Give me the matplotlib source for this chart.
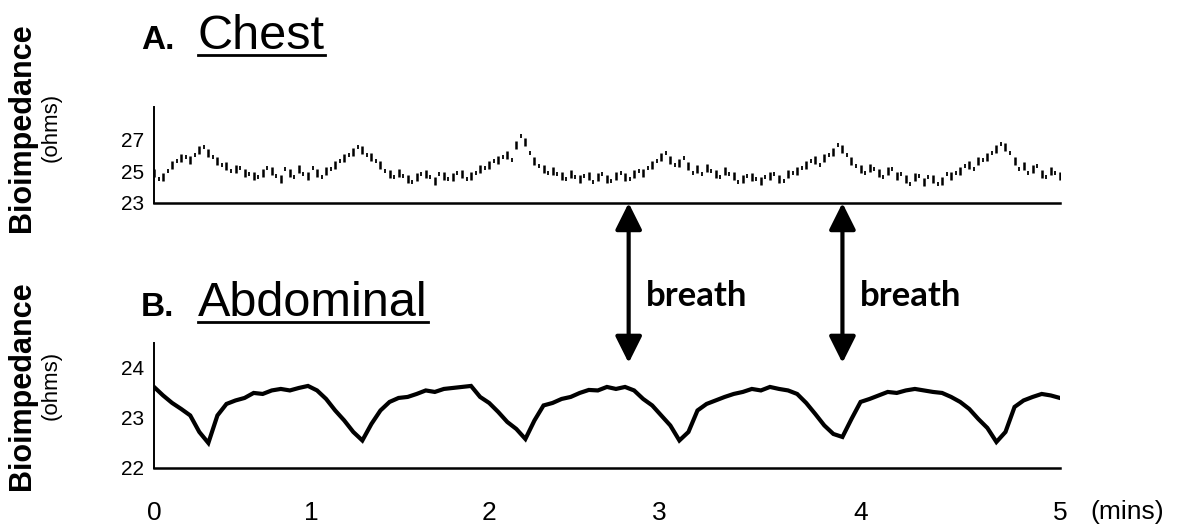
import matplotlib
matplotlib.use("Agg")
import matplotlib.pyplot as plt
from matplotlib import font_manager
from matplotlib.lines import Line2D
from matplotlib.patches import ConnectionPatch

# chest trace (mins, ohms)
chest_t = [0.00, 0.05, 0.10, 0.15, 0.20, 0.25, 0.30, 0.35, 0.40, 0.45,
           0.50, 0.55, 0.60, 0.65, 0.70, 0.75, 0.80, 0.85, 0.90, 0.95,
           1.00, 1.05, 1.10, 1.15, 1.20, 1.25, 1.30, 1.35, 1.40, 1.45,
           1.50, 1.55, 1.60, 1.65, 1.70, 1.75, 1.80, 1.85, 1.90, 1.95,
           2.00, 2.05, 2.10, 2.15, 2.20, 2.25, 2.30, 2.35, 2.40, 2.45,
           2.50, 2.55, 2.60, 2.65, 2.70, 2.75, 2.80, 2.85, 2.90, 2.95,
           3.00, 3.05, 3.10, 3.15, 3.20, 3.25, 3.30, 3.35, 3.40, 3.45,
           3.50, 3.55, 3.60, 3.65, 3.70, 3.75, 3.80, 3.85, 3.90, 3.95,
           4.00, 4.05, 4.10, 4.15, 4.20, 4.25, 4.30, 4.35, 4.40, 4.45,
           4.50, 4.55, 4.60, 4.65, 4.70, 4.75, 4.80, 4.85, 4.90, 4.95, 5.00]
chest_v = [24.9, 24.6, 25.4, 25.8, 25.7, 26.3, 26.1, 25.6, 25.3, 25.1,
           24.9, 24.7, 24.9, 25.0, 24.5, 24.9, 25.1, 24.7, 24.9, 25.0,
           25.4, 25.8, 26.2, 26.3, 25.9, 25.4, 24.8, 24.9, 24.5, 24.6,
           24.8, 24.4, 24.7, 24.6, 24.8, 24.7, 25.1, 25.4, 25.7, 26.0,
           26.6, 26.8, 25.6, 25.1, 25.0, 24.7, 24.8, 24.5, 24.7, 24.6,
           24.5, 24.7, 24.6, 24.8, 24.9, 25.4, 25.9, 25.7, 25.5, 25.3,
           25.1, 25.2, 24.8, 25.0, 24.7, 24.5, 24.6, 24.4, 24.7, 24.5,
           24.8, 25.0, 25.4, 25.7, 25.8, 26.2, 26.4, 25.6, 25.1, 25.2,
           24.9, 25.0, 24.7, 24.5, 24.6, 24.3, 24.5, 24.4, 24.7, 25.0,
           25.4, 25.6, 25.9, 26.4, 26.5, 25.6, 25.3, 25.1, 24.8, 25.0, 24.7]
# in-between chest samples (fainter specks)
chest2_t = [0.025, 0.075, 0.125, 0.175, 0.225, 0.275, 0.325, 0.375, 0.425, 0.475,
            0.525, 0.575, 0.625, 0.675, 0.725, 0.775, 0.825, 0.875, 0.925, 0.975,
            1.025, 1.075, 1.125, 1.175, 1.225, 1.275, 1.325, 1.375, 1.425, 1.475,
            1.525, 1.575, 1.625, 1.675, 1.725, 1.775, 1.825, 1.875, 1.925, 1.975,
            2.025, 2.075, 2.125, 2.175, 2.225, 2.275, 2.325, 2.375, 2.425, 2.475,
            2.525, 2.575, 2.625, 2.675, 2.725, 2.775, 2.825, 2.875, 2.925, 2.975,
            3.025, 3.075, 3.125, 3.175, 3.225, 3.275, 3.325, 3.375, 3.425, 3.475,
            3.525, 3.575, 3.625, 3.675, 3.725, 3.775, 3.825, 3.875, 3.925, 3.975,
            4.025, 4.075, 4.125, 4.175, 4.225, 4.275, 4.325, 4.375, 4.425, 4.475,
            4.525, 4.575, 4.625, 4.675, 4.725, 4.775, 4.825, 4.875, 4.925, 4.975]
chest2_v = [24.5, 25.0, 25.6, 25.9, 26.0, 26.5, 25.9, 25.4, 25.0, 25.2,
            24.8, 24.6, 25.2, 24.7, 25.1, 24.6, 24.8, 25.2, 24.6, 25.1,
            25.6, 26.0, 26.5, 26.0, 25.6, 25.0, 24.6, 24.7, 24.3, 24.8,
            24.6, 24.8, 24.5, 24.9, 24.5, 24.9, 25.2, 25.6, 25.9, 25.7,
            27.2, 26.1, 25.3, 24.9, 24.8, 24.5, 24.6, 24.7, 24.3, 24.8,
            24.4, 24.9, 24.5, 25.0, 25.2, 25.6, 26.1, 25.4, 25.8, 24.9,
            24.8, 25.0, 24.6, 24.8, 24.3, 24.7, 24.5, 24.6, 24.8, 24.4,
            24.9, 25.2, 25.6, 25.4, 26.0, 26.6, 26.0, 25.3, 24.9, 25.1,
            24.6, 25.1, 24.8, 24.2, 24.7, 24.6, 24.2, 24.8, 24.9, 25.3,
            25.1, 25.7, 26.1, 26.7, 26.1, 25.1, 24.9, 25.3, 24.6, 24.9]

# abdominal trace (mins, ohms)
abd_t = chest_t
abd_v = [23.62, 23.45, 23.30, 23.18, 23.05, 22.72, 22.50, 23.05, 23.28, 23.35,
         23.40, 23.50, 23.48, 23.55, 23.58, 23.55, 23.60, 23.64, 23.55, 23.38,
         23.15, 22.95, 22.72, 22.55, 22.88, 23.15, 23.32, 23.40, 23.42, 23.48,
         23.55, 23.52, 23.58, 23.60, 23.62, 23.64, 23.42, 23.30, 23.12, 22.92,
         22.78, 22.58, 22.95, 23.25, 23.30, 23.38, 23.42, 23.50, 23.56, 23.55,
         23.62, 23.58, 23.62, 23.55, 23.38, 23.25, 23.05, 22.85, 22.55, 22.72,
         23.15, 23.28, 23.35, 23.42, 23.48, 23.52, 23.58, 23.55, 23.62, 23.58,
         23.55, 23.48, 23.30, 23.08, 22.85, 22.68, 22.62, 22.98, 23.32, 23.38,
         23.45, 23.52, 23.50, 23.55, 23.58, 23.55, 23.52, 23.50, 23.42, 23.32,
         23.18, 22.98, 22.80, 22.52, 22.72, 23.22, 23.35, 23.42, 23.48, 23.45, 23.40]

xtick_pos = [0, 0.87, 1.85, 2.79, 3.90, 5.0]
xtick_labels = ["0", "1", "2", "3", "4", "5"]
chest_yticks = [23, 25, 27]
abd_yticks = [22, 23, 24]
breath_t = [2.62, 3.80]

names = {f.name for f in font_manager.fontManager.ttflist}
narrow = "Liberation Sans Narrow" if "Liberation Sans Narrow" in names else "Liberation Sans"
NARROW = [narrow, "DejaVu Sans"]
ARIAL = ["Liberation Sans", "DejaVu Sans"]

fig = plt.figure(figsize=(11.81, 5.30), dpi=100)
ax1 = fig.add_axes([0.1304, 0.617, 0.767, 0.181])
ax2 = fig.add_axes([0.1304, 0.117, 0.767, 0.236])

ax1.plot(chest_t, chest_v, ls="none", marker="|", ms=6, mew=1.8, color="k")
ax1.plot(chest2_t, chest2_v, ls="none", marker="|", ms=3.5, mew=1.3, color="k")
ax2.plot(abd_t, abd_v, color="k", lw=3, solid_joinstyle="miter")

ax1.set_ylim(23, 29)
ax2.set_ylim(22, 24.5)
for ax, yt in ((ax1, chest_yticks), (ax2, abd_yticks)):
    ax.set_xlim(0, 5)
    ax.set_yticks(yt)
    ax.set_yticklabels([str(v) for v in yt], family=NARROW, fontsize=15)
    ax.spines["top"].set_visible(False)
    ax.spines["right"].set_visible(False)
    ax.spines["left"].set_linewidth(1.4)
    ax.spines["bottom"].set_linewidth(1.8)
    ax.tick_params(length=0, pad=7)
ax1.set_xticks([])
ax2.set_xticks(xtick_pos)
ax2.set_xticklabels(xtick_labels, family=NARROW, fontsize=19)
ax2.tick_params(axis="x", pad=24)
fig.text(1127 / 1181, 1 - 512 / 530, "(mins)", family=NARROW, fontsize=19,
         ha="center", va="center")

# panel titles
titles = []
for y, letter, name in ((0.907, "A.", "Chest"), (0.404, "B.", "Abdominal")):
    fig.text(141 / 1181, y, letter, family=ARIAL, fontweight="bold", fontsize=24,
             ha="left", va="baseline")
    titles.append(fig.text(198 / 1181, y, name, family=NARROW, fontsize=35,
                           ha="left", va="baseline"))

# y labels
for yc in (0.760, 0.272):
    fig.text(0.019, yc, "Bioimpedance", family=ARIAL, fontweight="bold",
             fontsize=22, rotation=90, ha="center", va="center")
    fig.text(0.043, yc, "(ohms)", family=ARIAL, fontsize=16, rotation=90,
             ha="center", va="center")

# breath arrows
for t in breath_t:
    arr = ConnectionPatch(xyA=(t, 23), coordsA=ax1.transData,
                          xyB=(t, 24.1), coordsB=ax2.transData,
                          arrowstyle="<|-|>,head_length=0.9,head_width=0.45",
                          mutation_scale=18, lw=3, color="k",
                          shrinkA=0, shrinkB=0)
    fig.add_artist(arr)
    fig.text((t / 5 * 906 + 154 + 17) / 1181, 1 - 296 / 530, "breath",
             family=["Lato", "DejaVu Sans"], fontweight="bold", fontsize=25,
             ha="left", va="center")

# underline titles
fig.canvas.draw()
r = fig.canvas.get_renderer()
W, H = fig.bbox.width, fig.bbox.height
for txt in titles:
    bb = txt.get_window_extent(r)
    _, yb = fig.transFigure.transform((0, txt.get_position()[1]))
    yl = (yb - 6) / H
    fig.add_artist(Line2D([bb.x0 / W, bb.x1 / W], [yl, yl], color="k", lw=2,
                          transform=fig.transFigure))

fig.savefig("out.png", dpi=100)
